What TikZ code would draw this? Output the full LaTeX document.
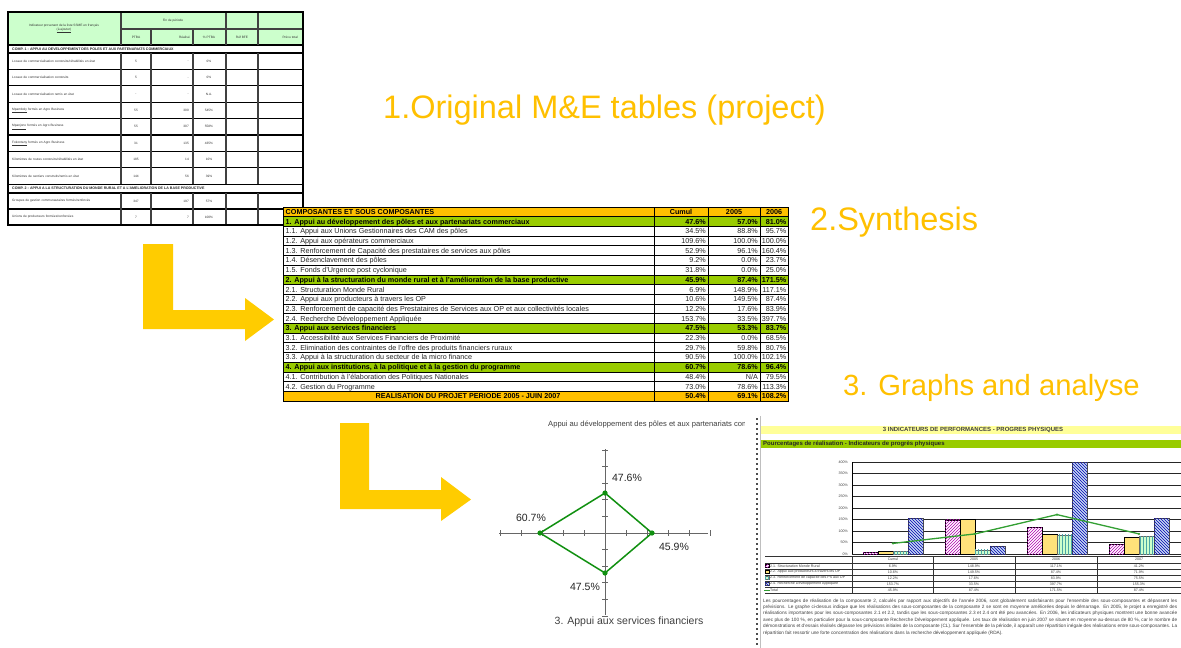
\documentclass[tikz,border=0pt]{standalone}
\usepackage{fontspec}
\setmainfont{Liberation Sans}
\usetikzlibrary{patterns}
\definecolor{titlegold}{HTML}{FFC000}
\definecolor{arrowgold}{HTML}{FFCC00}
\definecolor{hdrgreen}{HTML}{CCFFCC}
\definecolor{secgreen}{HTML}{99CC00}
\definecolor{radgreen}{HTML}{109010}
\definecolor{hdrgold}{HTML}{FFC000}
\definecolor{paleyellow}{HTML}{FFFF99}
\definecolor{baryellow}{HTML}{FFE27A}
\definecolor{barblue}{HTML}{C6D9F1}
\definecolor{linegreen}{HTML}{33A033}
\newcommand{\fs}[2]{\fontsize{#1}{#2}\selectfont}
% original table row
\newcommand{\orow}[7]{%
  \node[otxt, anchor=west, text width=100pt, align=left] (o#7l) at (12,#1) {#2};
  \node[otxt] (o#7a) at (136,#1) {#3};
  \node[otxt, anchor=east] (o#7b) at (189,#1) {#4};
  \node[otxt] (o#7c) at (209,#1) {#5};
  \node[otxt, anchor=east] (o#7d) at (299,#1) {#6};
}
% synthesis row
\newcommand{\synrow}[7]{%
  \pgfmathsetmacro{\syt}{207+#1*9.7}
  \pgfmathsetmacro{\syb}{207+(#1+1)*9.7}
  \fill[#2] (283,\syt) rectangle (788,\syb);
  \node[#3, anchor=base west] (sl#1) at (285.5,\syb-2.3) {#4};
  \node[#3, anchor=base east] (sa#1) at (706,\syb-2.3) {#5};
  \node[#3, anchor=base east] (sb#1) at (758,\syb-2.3) {#6};
  \node[#3, anchor=base east] (sc#1) at (786.5,\syb-2.3) {#7};
}
% chart bar
\newcommand{\cbar}[3]{%
  \pgfmathsetmacro{\cbt}{554-0.23*#2}
  \path[#3] (#1,554) rectangle (#1+15,\cbt);
}
% chart data-table row
\newcommand{\crow}[7]{%
  \node[ctxt, anchor=west] (cr#7) at (770,#1) {#2};
  \node[ctxt] (cv#7a) at (893,#1) {#3};
  \node[ctxt] (cv#7b) at (974,#1) {#4};
  \node[ctxt] (cv#7c) at (1056,#1) {#5};
  \node[ctxt] (cv#7d) at (1139,#1) {#6};
}
\begin{document}
\begin{tikzpicture}[x=1pt,y=-1pt,
  bigtitle/.style={font=\fs{32.5}{39}, text=titlegold, inner sep=0pt},
  lshape/.style={fill=arrowgold, draw=none},
  otxt/.style={font=\fs{3.2}{3.9}, text=black!80, inner sep=0pt},
  ohdr/.style={font=\bfseries\fs{3.6}{4.2}, text=black!85, inner sep=0pt},
  ogrid/.style={draw=black!75, line width=1.2pt},
  stxt/.style={font=\fs{7.2}{8}, text=black!85, inner sep=0pt},
  sbold/.style={font=\bfseries\fs{7.2}{8}, text=black, inner sep=0pt},
  rlab/.style={font=\fs{10.5}{12}, text=black!85, inner sep=0pt},
  axis/.style={draw=black!60, line width=0.8pt},
  ctxt/.style={font=\fs{3.6}{4.2}, text=black!75, inner sep=0pt},
  pinkbar/.style={fill=white, draw=black, line width=0.5pt, postaction={pattern=north east lines, pattern color=magenta!70!black}},
  yelbar/.style={fill=baryellow, draw=black, line width=0.8pt},
  grnbar/.style={fill=hdrgreen, draw=black!60, line width=0.4pt, postaction={pattern=vertical lines, pattern color=teal!70}},
  bluebar/.style={fill=barblue, draw=black!70, line width=0.5pt, postaction={pattern=north west lines, pattern color=blue!70!black}},
]
\useasboundingbox[fill=white] (0,0) rectangle (1181,648);

% ================= 1. original M&E table =================
\fill[hdrgreen] (8,12) rectangle (303,45);
\draw[ogrid] (8,12) -- (303,12);
\draw[ogrid] (121,29) -- (303,29);
\foreach \yy in {45,53,69.4,85.8,102.2,118.6,135,151.4,167.8,184.2,193,209,225}
  \draw[ogrid, draw=black] (8,\yy) -- (303,\yy);
\foreach \xx in {121,226,258} \draw[ogrid] (\xx,12) -- (\xx,45);
\foreach \xx in {151,193} \draw[ogrid] (\xx,29) -- (\xx,45);
\foreach \xx in {121,151,193,226,258} {
  \draw[ogrid] (\xx,53) -- (\xx,184.2);
  \draw[ogrid] (\xx,193) -- (\xx,225);
}
\draw[draw=black, line width=1.5pt] (8,12) rectangle (303,225);
\node[otxt, align=center] (oh0) at (64,28.5) {Indicateur provenant de la liste SSME en français\\[-0.3pt]\underline{(à ajouter)}};
\node[otxt] (oh1) at (173,20.5) {Fin de période};
\node[otxt] (oh2) at (136,37) {PTBA};
\node[otxt, anchor=east] (oh3) at (190,37) {Réalisé};
\node[otxt] (oh4) at (209,37) {\% PTBA};
\node[otxt] (oh5) at (242,37) {Réf BFE};
\node[otxt, anchor=east] (oh6) at (298,37) {Prévu total};
\node[ohdr, anchor=west] (oc1) at (12,49) {COMP. 1 : APPUI AU DEVELOPPEMENT DES POLES ET AUX PARTENARIATS COMMERCIAUX};
\orow{61.2}{Locaux de commercialisation construits/réhabilités en état}{5}{-}{0\%}{}{25}{1}
\orow{77.6}{Locaux de commercialisation construits}{5}{-}{0\%}{}{25}{2}
\orow{94}{Locaux de commercialisation remis en état}{-}{-}{N.A.}{}{N.D.}{3}
\orow{110.4}{\underline{Mpamboly} formés en Agro Business}{55}{300}{545\%}{}{750}{4}
\orow{126.8}{\underline{Mpanjono} formés en Agro Business}{55}{307}{558\%}{}{540}{5}
\orow{143.2}{\underline{Fokontany} formés en Agro Business}{31}{135}{435\%}{}{300}{6}
\orow{159.6}{Kilomètres de routes construits/réhabilités en état}{185}{14}{10\%}{}{1 000}{7}
\orow{176}{Kilomètres de sentiers construits/remis en état}{144}{56}{39\%}{}{1 400}{8}
\node[ohdr, anchor=west] (oc2) at (12,188.6) {COMP. 2 : APPUI A LA STRUCTURATION DU MONDE RURAL ET A L'AMELIORATION DE LA BASE PRODUCTIVE};
\orow{201}{Groupes de gestion communautaires formés/renforcés}{347}{197}{57\%}{}{4 414}{9}
\orow{217}{Unions de producteurs formées/renforcées}{7}{7}{100\%}{}{}{10}

% ================= titles =================
\node[bigtitle, anchor=base west] (t1) at (383,118) {1.Original M\&E tables (project)};
\node[bigtitle, anchor=base west] (t2) at (810,230) {2.Synthesis};
\node[bigtitle, font=\fs{29.2}{35}, anchor=base west] (t3) at (843,395) {3. Graphs and analyse};

% ================= L arrows =================
\fill[lshape] (143,244) -- (173,244) -- (173,310) -- (245,310) -- (245,298) -- (274,319.5) -- (245,341) -- (245,329) -- (143,329) -- cycle;
\fill[lshape] (340,423) -- (369,423) -- (369,490) -- (441,490) -- (441,477) -- (471,499.5) -- (441,521) -- (441,509) -- (340,509) -- cycle;

% ================= 2. synthesis table =================
\fill[hdrgold] (283,207) rectangle (788,216.7);
\node[sbold, anchor=base west] (sh0) at (285.5,214.4) {COMPOSANTES ET SOUS COMPOSANTES};
\node[sbold, anchor=base] (sh1) at (681,214.4) {Cumul};
\node[sbold, anchor=base] (sh2) at (734,214.4) {2005};
\node[sbold, anchor=base] (sh3) at (774,214.4) {2006};
\synrow{1}{secgreen}{sbold}{1. Appui au développement des pôles et aux partenariats commerciaux}{47.6\%}{57.0\%}{81.0\%}
\synrow{2}{white}{stxt}{1.1. Appui aux Unions Gestionnaires des CAM des pôles}{34.5\%}{88.8\%}{95.7\%}
\synrow{3}{white}{stxt}{1.2. Appui aux opérateurs commerciaux}{109.6\%}{100.0\%}{100.0\%}
\synrow{4}{white}{stxt}{1.3. Renforcement de Capacité des prestataires de services aux pôles}{52.9\%}{96.1\%}{160.4\%}
\synrow{5}{white}{stxt}{1.4. Désenclavement des pôles}{9.2\%}{0.0\%}{23.7\%}
\synrow{6}{white}{stxt}{1.5. Fonds d'Urgence post cyclonique}{31.8\%}{0.0\%}{25.0\%}
\synrow{7}{secgreen}{sbold}{2. Appui à la structuration du monde rural et à l'amélioration de la base productive}{45.9\%}{87.4\%}{171.5\%}
\synrow{8}{white}{stxt}{2.1. Structuration Monde Rural}{6.9\%}{148.9\%}{117.1\%}
\synrow{9}{white}{stxt}{2.2. Appui aux producteurs à travers les OP}{10.6\%}{149.5\%}{87.4\%}
\synrow{10}{white}{stxt}{2.3. Renforcement de capacité des Prestataires de Services aux OP et aux collectivités locales}{12.2\%}{17.6\%}{83.9\%}
\synrow{11}{white}{stxt}{2.4. Recherche Développement Appliquée}{153.7\%}{33.5\%}{397.7\%}
\synrow{12}{secgreen}{sbold}{3. Appui aux services financiers}{47.5\%}{53.3\%}{83.7\%}
\synrow{13}{white}{stxt}{3.1. Accessibilité aux Services Financiers de Proximité}{22.3\%}{0.0\%}{68.5\%}
\synrow{14}{white}{stxt}{3.2. Elimination des contraintes de l'offre des produits financiers ruraux}{29.7\%}{59.8\%}{80.7\%}
\synrow{15}{white}{stxt}{3.3. Appui à la structuration du secteur de la micro finance}{90.5\%}{100.0\%}{102.1\%}
\synrow{16}{secgreen}{sbold}{4. Appui aux institutions, à la politique et à la gestion du programme}{60.7\%}{78.6\%}{96.4\%}
\synrow{17}{white}{stxt}{4.1. Contribution à l'élaboration des Politiques Nationales}{48.4\%}{N/A}{79.5\%}
\synrow{18}{white}{stxt}{4.2. Gestion du Programme}{73.0\%}{78.6\%}{113.3\%}
\synrow{19}{hdrgold}{sbold}{}{50.4\%}{69.1\%}{108.2\%}
\node[sbold, anchor=base] (stot) at (468,398.7) {REALISATION DU PROJET PERIODE 2005 - JUIN 2007};
\foreach \i in {0,...,20} \draw[black, line width=0.8pt] (283,207+\i*9.7) -- (788,207+\i*9.7);
\foreach \xx in {654,708,760} \draw[black, line width=0.8pt] (\xx,207) -- (\xx,401);
\draw[black, line width=1pt] (283,207) rectangle (788,401);

% ================= radar chart =================
\begin{scope}
  \clip (540,414) rectangle (744,432);
  \node[font=\fs{7.6}{9}, text=black!75, inner sep=0pt, anchor=west] (rtitle) at (548,424) {Appui au développement des pôles et aux partenariats commerciaux};
\end{scope}
\coordinate (rc) at (605,533);
\draw[axis] (605,449) -- (605,615);
\draw[axis] (499,533) -- (708,533);
\foreach \i in {-5,...,5} {
  \draw[axis] (605+21*\i,530) -- (605+21*\i,536);
  \draw[axis] (602,533+16.6*\i) -- (608,533+16.6*\i);
}
\coordinate (rt) at (605,493);
\coordinate (rr) at (652,533);
\coordinate (rb) at (605,573);
\coordinate (rl) at (540,533);
\draw[radgreen, line width=1.5pt, line join=round] (rt) -- (rr) -- (rb) -- (rl) -- cycle;
\foreach \p in {rt,rr,rb,rl} \fill[radgreen] (\p) circle (2.6pt);
\node[rlab] (r1) at (627,478) {47.6\%};
\node[rlab] (r2) at (531,518) {60.7\%};
\node[rlab] (r3) at (674,547) {45.9\%};
\node[rlab] (r4) at (585,587) {47.5\%};
\node[rlab, text=black!75] (rsub) at (629,622) {3. Appui aux services financiers};

% ================= chart screenshot =================
\foreach \yy in {418,423,...,646} \fill[black!70] (756,\yy) rectangle (758,\yy+1.5);
\draw[black!25, line width=0.4pt] (760,416) -- (760,648);
\fill[paleyellow] (761,426) rectangle (1181,434);
\node[font=\bfseries\fs{6}{7}, text=black!75, inner sep=0pt] (ch1) at (973,430) {3 INDICATEURS DE PERFORMANCES - PROGRES PHYSIQUES};
\fill[secgreen] (761,440) rectangle (1181,448);
\node[font=\bfseries\fs{6}{7}, text=black!85, inner sep=0pt, anchor=west] (ch2) at (763,444) {Pourcentages de réalisation - Indicateurs de progrès physiques};
% grid
\foreach \v in {0,50,...,400} {
  \draw[black!85, line width=0.6pt] (852,554-0.23*\v) -- (1181,554-0.23*\v);
  \node[ctxt, anchor=east] at (848,554-0.23*\v) {\v\%};
}
\draw[black, line width=0.8pt] (852,462) -- (852,554);
% bars
\cbar{863}{6.9}{pinkbar}   \cbar{878}{10.6}{yelbar}  \cbar{893}{12.2}{grnbar}  \cbar{908}{153.7}{bluebar}
\cbar{945}{148.9}{pinkbar} \cbar{960}{149.5}{yelbar} \cbar{975}{17.6}{grnbar}  \cbar{990}{33.5}{bluebar}
\cbar{1027}{117.1}{pinkbar}\cbar{1042}{87.4}{yelbar} \cbar{1057}{83.9}{grnbar} \cbar{1072}{397.7}{bluebar}
\cbar{1109}{41.2}{pinkbar} \cbar{1124}{71.9}{yelbar} \cbar{1139}{75.5}{grnbar} \cbar{1154}{155.3}{bluebar}
% total line
\coordinate (l1) at (893,543.4);
\coordinate (l2) at (975,533.9);
\coordinate (l3) at (1057,514.6);
\coordinate (l4) at (1139,533.9);
\draw[linegreen, line width=1.3pt] (l1) -- (l2) -- (l3) -- (l4);
\foreach \p in {l1,l2,l3,l4} \fill[linegreen] (\p) circle (1.3pt);
% data table
\foreach \yy in {556,563,569,575,581,587,593} \draw[black!80, line width=0.5pt] (765,\yy) -- (1181,\yy);
\foreach \xx in {852,933,1015,1097} \draw[black!80, line width=0.5pt] (\xx,556) -- (\xx,593);
\node[ctxt] (cc1) at (893,559.5) {Cumul};
\node[ctxt] (cc2) at (974,559.5) {2005};
\node[ctxt] (cc3) at (1056,559.5) {2006};
\node[ctxt] (cc4) at (1139,559.5) {2007};
\path[pinkbar] (765,564.5) rectangle (769,567.5);
\path[yelbar, line width=0.3pt] (765,570.5) rectangle (769,573.5);
\path[grnbar] (765,576.5) rectangle (769,579.5);
\path[bluebar] (765,582.5) rectangle (769,585.5);
\draw[linegreen, line width=0.8pt] (764,590) -- (770,590);
\crow{566}{2.1. Structuration Monde Rural}{6.9\%}{148.9\%}{117.1\%}{41.2\%}{1}
\crow{572}{2.2. Appui aux producteurs à travers les OP}{10.6\%}{149.5\%}{87.4\%}{71.9\%}{2}
\crow{578}{2.3. Renforcement de capacité des PS aux OP}{12.2\%}{17.6\%}{83.9\%}{75.5\%}{3}
\crow{584}{2.4. Recherche Développement Appliquée}{153.7\%}{33.5\%}{397.7\%}{155.3\%}{4}
\crow{590}{Total}{45.9\%}{87.4\%}{171.5\%}{87.4\%}{5}
% analysis paragraph
\node[font=\fs{4.7}{6.4}, text=black!75, inner sep=0pt, anchor=north west, text width=414pt, align=justify] (para) at (763,598.5) {Les pourcentages de réalisation de la composante 2, calculés par rapport aux objectifs de l'année 2006, sont globalement satisfaisants pour l'ensemble des sous-composantes et dépassent les prévisions. Le graphe ci-dessus indique que les réalisations des sous-composantes de la composante 2 se sont en moyenne améliorées depuis le démarrage. En 2005, le projet a enregistré des réalisations importantes pour les sous-composantes 2.1 et 2.2, tandis que les sous-composantes 2.3 et 2.4 ont été peu avancées. En 2006, les indicateurs physiques montrent une bonne avancée avec plus de 100 \%, en particulier pour la sous-composante Recherche Développement appliquée. Les taux de réalisation en juin 2007 se situent en moyenne au-dessus de 80 \%, car le nombre de démonstrations et d'essais réalisés dépasse les prévisions initiales de la composante (CL). Sur l'ensemble de la période, il apparaît une répartition inégale des réalisations entre sous-composantes. La répartition fait ressortir une forte concentration des réalisations dans la recherche développement appliquée (RDA).};
\end{tikzpicture}
\end{document}
